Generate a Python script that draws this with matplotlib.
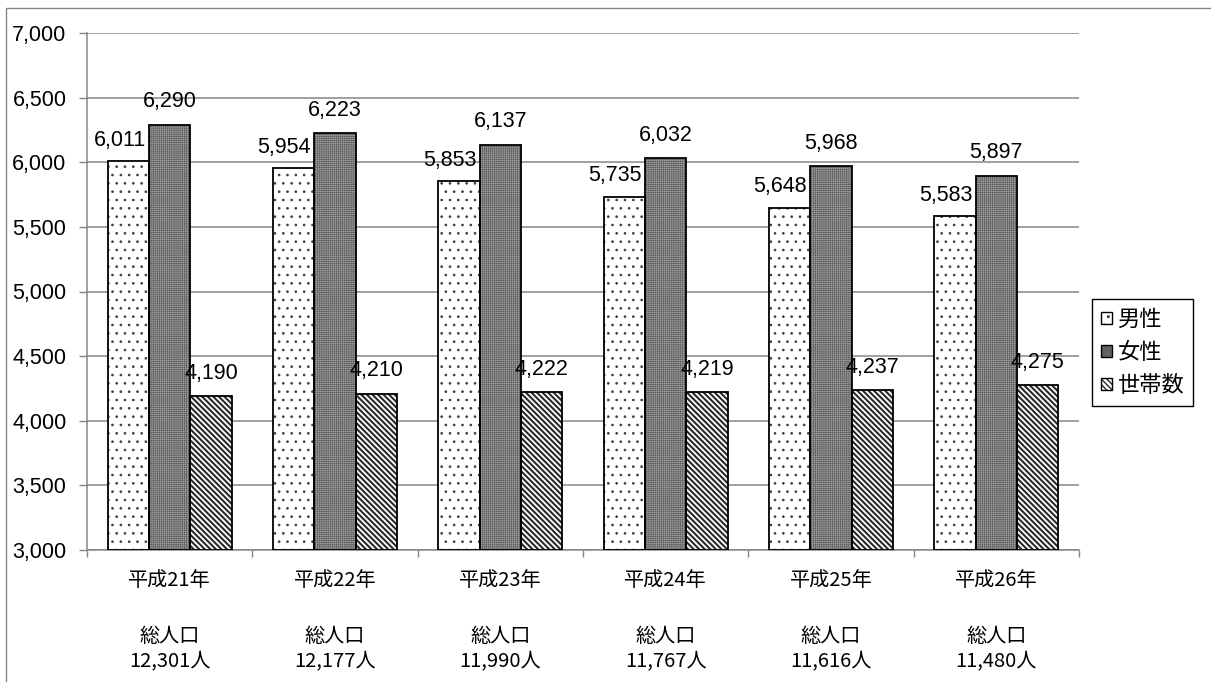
import matplotlib
matplotlib.use("Agg")
import matplotlib.pyplot as plt
import matplotlib.transforms as mtransforms
from matplotlib.patches import Rectangle, Patch
import numpy as np

# --- data -------------------------------------------------------------
years = ["平成21年", "平成22年", "平成23年", "平成24年", "平成25年", "平成26年"]
male = [6011, 5954, 5853, 5735, 5648, 5583]
female = [6290, 6223, 6137, 6032, 5968, 5897]
households = [4190, 4210, 4222, 4219, 4237, 4275]
total_pop = ["12,301人", "12,177人", "11,990人", "11,767人", "11,616人", "11,480人"]
series_names = ["男性", "女性", "世帯数"]
yticks = [3000, 3500, 4000, 4500, 5000, 5500, 6000, 6500, 7000]

# --- style ------------------------------------------------------------
W, H, DPI = 1211, 682, 100
LAT = ["Liberation Sans", "DejaVu Sans"]
JP = ["Noto Sans CJK JP", "DejaVu Sans"]
FS = 15.5
FJ = 14.5
GRID = "#868686"

fig = plt.figure(figsize=(W / DPI, H / DPI), dpi=DPI)
ax = fig.add_axes([87 / W, 1 - 550 / H, (1079 - 87) / W, (550 - 33) / H])

# outer chart frame
fig.patches.append(Rectangle((6 / W, -0.01), 1.0, 1 - 8 / H + 0.01,
                             transform=fig.transFigure, fill=False,
                             edgecolor=GRID, linewidth=1.0, zorder=0))

x = np.arange(len(years))
bw = 0.25

styles = [
    dict(face="white", hatch="..", hcolor="#404040", hlw=0.7),
    dict(face="#a2a2a2", hatch="++++++++", hcolor="#606060", hlw=0.45),
    dict(face="white", hatch="\\" * 6, hcolor="#2a2a2a", hlw=1.5),
]
series = [male, female, households]
offsets = [-bw, 0.0, bw]

for vals, off, st in zip(series, offsets, styles):
    plt.rcParams["hatch.linewidth"] = st["hlw"]
    ax.bar(x + off, np.array(vals) - 3000, bw, bottom=3000,
           color=st["face"], edgecolor=st["hcolor"], hatch=st["hatch"],
           linewidth=0, zorder=2)
    ax.bar(x + off, np.array(vals) - 3000, bw, bottom=3000,
           fill=False, edgecolor="black", linewidth=1.3, zorder=3)

# value labels
for i in range(len(years)):
    ax.annotate(f"{male[i]:,}", (x[i] - bw / 2, male[i]),
                xytext=(-2.5, 11), textcoords="offset points",
                ha="right", va="baseline", fontsize=FS, family=LAT)
    ax.annotate(f"{female[i]:,}", (x[i], female[i]),
                xytext=(0, 12.5), textcoords="offset points",
                ha="center", va="baseline", fontsize=FS, family=LAT)
    ax.annotate(f"{households[i]:,}", (x[i] + bw, households[i]),
                xytext=(0, 12.5), textcoords="offset points",
                ha="center", va="baseline", fontsize=FS, family=LAT)

# axes
ax.set_xlim(-0.5, len(years) - 0.5)
ax.set_ylim(3000, 7000)
ax.set_yticks(yticks)
ax.set_yticklabels([f"{v:,}" for v in yticks], fontsize=FS, family=LAT)
ax.tick_params(axis="y", length=5.8, width=1.0, color=GRID, pad=9)
ax.yaxis.grid(True, color=GRID, linewidth=1.1, zorder=0)
ax.set_axisbelow(True)

ax.set_xticks(x)
ax.set_xticklabels([])
ax.tick_params(axis="x", which="major", length=0)
ax.set_xticks(np.arange(-0.5, len(years), 1.0), minor=True)
ax.tick_params(axis="x", which="minor", length=5, width=1.0, color=GRID)

for s in ["top", "right"]:
    ax.spines[s].set_visible(False)
for s in ["left", "bottom"]:
    ax.spines[s].set_color(GRID)
    ax.spines[s].set_linewidth(1.1)

# category labels below the axis
trans = mtransforms.blended_transform_factory(ax.transData, ax.transAxes)
ah = 550 - 33
for i, yr in enumerate(years):
    ax.text(x[i], -30 / ah, yr, transform=trans, ha="center", va="center",
            fontsize=FJ, family=JP)
    ax.text(x[i], -86 / ah, "総人口", transform=trans, ha="center", va="center",
            fontsize=FJ, family=JP)
    ax.text(x[i], -112 / ah, total_pop[i], transform=trans, ha="center",
            va="center", fontsize=FJ, family=JP)

# legend
handles = []
for st in styles:
    plt.rcParams["hatch.linewidth"] = min(st["hlw"], 1.0)
    p1 = Patch(facecolor=st["face"], edgecolor=st["hcolor"], hatch=st["hatch"],
               linewidth=0)
    p2 = Patch(fill=False, edgecolor="black", linewidth=1.0)
    handles.append((p1, p2))
leg = fig.legend(handles, series_names, loc="center left",
                 bbox_to_anchor=(1092 / W, 1 - 352.5 / H),
                 prop={"family": JP, "size": 16},
                 handlelength=0.5, handleheight=0.5, handletextpad=0.25,
                 labelspacing=0.45, borderpad=0.4, borderaxespad=0,
                 fancybox=False, framealpha=1, edgecolor="black")
leg.get_frame().set_linewidth(1.0)

fig.savefig("out.png", dpi=DPI)
